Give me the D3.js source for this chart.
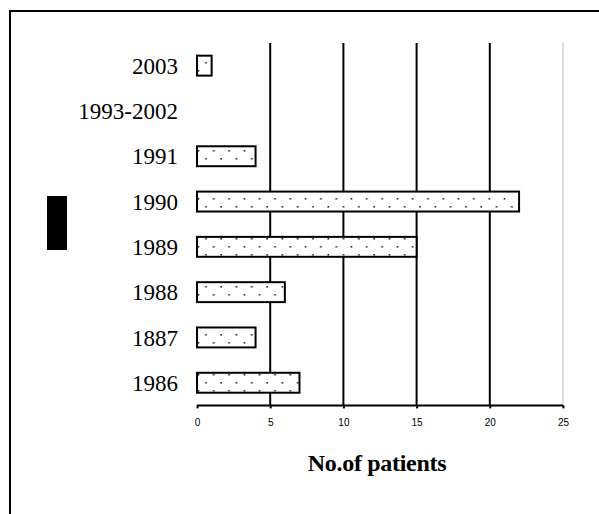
<!DOCTYPE html>
<html>
<head>
  <meta charset="utf-8">
  <title>patients by year</title>
  <style>
    body { margin: 0; background: #fff; }
    .ylab { font-family: "Liberation Serif", serif; font-size: 23px; text-anchor: end; }
    .xtick { font-family: "Liberation Sans", Arial, sans-serif; font-size: 10px; text-anchor: middle; }
    .xtitle { font-family: "Liberation Serif", serif; font-size: 24px; font-weight: bold; text-anchor: middle; letter-spacing: -0.3px; }
  </style>
</head>
<body>
<script src="https://d3js.org/d3.v7.min.js"></script>
<script>
  var width = 599,
      height = 514;

  var categories = ['2003', '1993-2002', '1991', '1990', '1989', '1988', '1887', '1986'];
  var patients = [1, 0, 4, 22, 15, 6, 4, 7];
  var xTicks = [0, 5, 10, 15, 20, 25];
  var xTitle = 'No.of patients';

  var padding = {left: 197, top: 43};
  var plotW = 366,
      plotH = 362.4;

  var svg = d3.select('body')
    .append('svg')
    .attr('width', width)
    .attr('height', height);

  // outer frame (right and bottom fall outside the picture)
  svg.append('rect')
    .attr('x', 10).attr('y', 11)
    .attr('width', 620).attr('height', 540)
    .attr('fill', 'none')
    .attr('stroke', '#000')
    .attr('stroke-width', 2);

  // dotted fill
  var pat = svg.append('defs').append('pattern')
    .attr('id', 'dots')
    .attr('patternUnits', 'userSpaceOnUse')
    .attr('x', padding.left + 2).attr('y', 0)
    .attr('width', 15.3).attr('height', 16);
  pat.append('rect').attr('width', 15.3).attr('height', 16).attr('fill', '#fff');
  [[8, 3], [0.6, 11], [15.9, 11]].forEach(function(p) {
    pat.append('rect').attr('x', p[0]).attr('y', p[1])
      .attr('width', 1.6).attr('height', 1.6).attr('fill', '#222');
  });

  var xScale = d3.scaleLinear().domain([0, 25]).range([0, plotW]);
  var yScale = d3.scaleBand()
    .domain(categories)
    .range([0, plotH])
    .paddingInner(0.56)
    .paddingOuter(0.28);

  var rows = patients.map(function(v, i) {
    return {cat: categories[i], value: v};
  });

  var g = svg.append('g')
    .attr('transform', 'translate(' + padding.left + ',' + padding.top + ')');

  // grid lines
  g.selectAll('.grid')
    .data(xTicks.filter(function(d) { return d > 0; }))
    .enter().append('line')
    .attr('x1', function(d) { return xScale(d); })
    .attr('x2', function(d) { return xScale(d); })
    .attr('y1', 0)
    .attr('y2', plotH)
    .attr('stroke', function(d) { return d === 25 ? '#d0d0d0' : '#000'; })
    .attr('stroke-width', function(d) { return d === 25 ? 1.5 : 2; });

  // bars
  g.selectAll('.bar')
    .data(rows.filter(function(d) { return d.value > 0; }))
    .enter().append('rect')
    .attr('x', xScale(0))
    .attr('y', function(d) { return yScale(d.cat); })
    .attr('width', function(d) { return xScale(d.value); })
    .attr('height', yScale.bandwidth())
    .attr('fill', 'url(#dots)')
    .attr('stroke', '#000')
    .attr('stroke-width', 2);

  // bottom axis
  var xAxis = d3.axisBottom(xScale)
    .tickValues(xTicks)
    .tickSize(3)
    .tickPadding(11)
    .tickFormat(d3.format('d'));

  var xAxisG = g.append('g')
    .attr('transform', 'translate(0,' + plotH + ')')
    .call(xAxis);
  xAxisG.select('.domain').attr('stroke-width', 2).attr('d', 'M0,0H' + plotW);
  xAxisG.selectAll('.tick line').attr('stroke-width', 2);
  xAxisG.selectAll('.tick text').attr('class', 'xtick').attr('font-family', null).attr('font-size', null);

  // category labels
  g.selectAll('.ylab')
    .data(categories)
    .enter().append('text')
    .attr('class', 'ylab')
    .attr('x', -19)
    .attr('y', function(d) { return yScale(d) + yScale.bandwidth() / 2; })
    .attr('dy', '0.35em')
    .text(function(d) { return d; });

  // axis title
  svg.append('text')
    .attr('class', 'xtitle')
    .attr('x', 377)
    .attr('y', 471)
    .text(xTitle);

  // black marker on the left
  svg.append('rect')
    .attr('x', 47).attr('y', 196)
    .attr('width', 20).attr('height', 54)
    .attr('fill', '#000');
</script>
</body>
</html>
